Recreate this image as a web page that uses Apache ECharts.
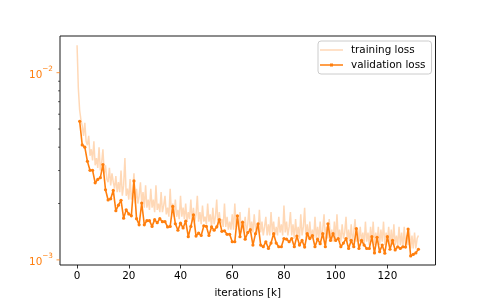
<!DOCTYPE html>
<html><head><meta charset="utf-8">
<script src="https://cdn.jsdelivr.net/npm/echarts@6/dist/echarts.min.js"></script>
<style>html,body{margin:0;padding:0;background:#fff}#c{width:484px;height:303px}</style>
</head><body><div id="c"></div>
<script>
// iterations in thousands
const trainStart = 0, trainStep = 0.5;
const trainLoss = [
14.0e-3,8.2e-3,6.3e-3,5.6e-3,5.2e-3,4.6e-3,5.4e-3,4.3e-3,4.1e-3,4.6e-3,
3.6e-3,3.9e-3,3.4e-3,4.3e-3,3.2e-3,3.5e-3,3.1e-3,4.0e-3,3.0e-3,3.3e-3,
3.9e-3,2.9e-3,3.2e-3,2.7e-3,2.6e-3,3.1e-3,2.5e-3,2.9e-3,2.6e-3,2.4e-3,
2.8e-3,2.3e-3,2.6e-3,2.3e-3,3.0e-3,2.2e-3,2.5e-3,3.5e-3,2.2e-3,2.4e-3,
2.1e-3,2.7e-3,2.1e-3,2.3e-3,2.9e-3,2.0e-3,2.4e-3,2.0e-3,2.2e-3,2.6e-3,
2.0e-3,2.3e-3,1.9e-3,2.5e-3,1.9e-3,2.1e-3,1.85e-3,2.4e-3,1.9e-3,2.1e-3,
1.8e-3,2.5e-3,1.85e-3,2.0e-3,1.8e-3,2.3e-3,1.8e-3,1.95e-3,2.2e-3,1.75e-3,
1.9e-3,1.7e-3,2.4e-3,1.75e-3,2.0e-3,1.7e-3,2.1e-3,1.7e-3,1.85e-3,1.65e-3,
2.2e-3,1.7e-3,1.9e-3,1.65e-3,2.0e-3,1.6e-3,1.8e-3,1.65e-3,2.1e-3,1.6e-3,
1.9e-3,1.6e-3,1.75e-3,2.2e-3,1.6e-3,1.8e-3,1.55e-3,1.95e-3,1.6e-3,1.7e-3,
1.55e-3,2.0e-3,1.6e-3,1.75e-3,1.5e-3,1.9e-3,1.55e-3,1.7e-3,2.1e-3,1.5e-3,
1.8e-3,1.55e-3,1.65e-3,1.5e-3,2.0e-3,1.5e-3,1.7e-3,1.45e-3,1.6e-3,1.45e-3,
1.75e-3,1.45e-3,2.0e-3,1.5e-3,1.65e-3,1.45e-3,1.8e-3,1.4e-3,1.6e-3,1.45e-3,
1.7e-3,1.4e-3,1.55e-3,1.9e-3,1.4e-3,1.6e-3,1.4e-3,1.75e-3,1.45e-3,1.55e-3,
1.4e-3,1.85e-3,1.4e-3,1.6e-3,1.35e-3,1.5e-3,1.7e-3,1.35e-3,1.55e-3,1.35e-3,
1.8e-3,1.4e-3,1.6e-3,1.35e-3,1.5e-3,1.35e-3,1.7e-3,1.4e-3,1.55e-3,1.35e-3,
1.95e-3,1.4e-3,1.6e-3,1.35e-3,1.5e-3,1.8e-3,1.35e-3,1.55e-3,1.3e-3,1.65e-3,
1.35e-3,1.5e-3,1.3e-3,1.75e-3,1.35e-3,1.5e-3,1.9e-3,1.3e-3,1.55e-3,1.3e-3,
1.6e-3,1.3e-3,1.45e-3,1.3e-3,1.7e-3,1.3e-3,1.5e-3,1.3e-3,1.6e-3,1.3e-3,
1.45e-3,1.75e-3,1.3e-3,1.5e-3,1.3e-3,1.65e-3,1.3e-3,1.45e-3,1.25e-3,1.6e-3,
1.3e-3,1.75e-3,1.3e-3,1.45e-3,1.25e-3,1.55e-3,1.3e-3,1.4e-3,1.7e-3,1.25e-3,
1.45e-3,1.25e-3,1.55e-3,1.25e-3,1.4e-3,1.65e-3,1.25e-3,1.45e-3,1.25e-3,1.5e-3,
1.25e-3,1.4e-3,1.2e-3,1.6e-3,1.25e-3,1.4e-3,1.2e-3,1.5e-3,1.25e-3,1.6e-3,
1.2e-3,1.4e-3,1.25e-3,1.5e-3,1.2e-3,1.45e-3,1.25e-3,1.6e-3,1.2e-3,1.4e-3,
1.25e-3,1.5e-3,1.2e-3,1.45e-3,1.2e-3,1.55e-3,1.2e-3,1.35e-3,1.2e-3,1.5e-3,
1.2e-3,1.4e-3,1.15e-3,1.5e-3,1.2e-3,1.35e-3,1.2e-3,1.45e-3,1.15e-3,1.35e-3,
1.15e-3,1.4e-3,1.15e-3,1.3e-3,1.35e-3
];
const valStart = 1, valStep = 1;
const valLoss = [
5.50e-3,4.11e-3,4.00e-3,3.36e-3,3.01e-3,3.01e-3,2.58e-3,2.69e-3,2.75e-3,3.23e-3,
2.37e-3,2.09e-3,2.12e-3,2.35e-3,1.83e-3,1.96e-3,2.08e-3,1.67e-3,1.85e-3,1.76e-3,
1.72e-3,2.64e-3,1.66e-3,1.54e-3,2.01e-3,1.54e-3,1.62e-3,1.62e-3,1.51e-3,1.64e-3,
1.58e-3,1.66e-3,1.60e-3,1.60e-3,1.50e-3,1.51e-3,1.93e-3,1.56e-3,1.44e-3,1.57e-3,
1.48e-3,1.61e-3,1.33e-3,1.51e-3,1.74e-3,1.34e-3,1.39e-3,1.35e-3,1.52e-3,1.51e-3,
1.35e-3,1.50e-3,1.44e-3,1.50e-3,1.64e-3,1.42e-3,1.43e-3,1.37e-3,1.37e-3,1.25e-3,
1.25e-3,1.72e-3,1.33e-3,1.59e-3,1.29e-3,1.40e-3,1.45e-3,1.20e-3,1.38e-3,1.56e-3,
1.20e-3,1.175e-3,1.25e-3,1.15e-3,1.23e-3,1.38e-3,1.23e-3,1.175e-3,1.175e-3,1.30e-3,
1.29e-3,1.25e-3,1.30e-3,1.175e-3,1.34e-3,1.20e-3,1.27e-3,1.17e-3,1.38e-3,1.30e-3,
1.35e-3,1.175e-3,1.29e-3,1.22e-3,1.38e-3,1.175e-3,1.56e-3,1.27e-3,1.38e-3,1.27e-3,
1.30e-3,1.175e-3,1.23e-3,1.30e-3,1.15e-3,1.27e-3,1.175e-3,1.47e-3,1.15e-3,1.27e-3,
1.20e-3,1.15e-3,1.15e-3,1.33e-3,1.09e-3,1.32e-3,1.105e-3,1.20e-3,1.085e-3,1.33e-3,
1.14e-3,1.27e-3,1.13e-3,1.175e-3,1.15e-3,1.175e-3,1.17e-3,1.46e-3,1.05e-3,1.07e-3,
1.09e-3,1.14e-3
];
const xTicks = [0, 20, 40, 60, 80, 100, 120];
const yMajorTicks = [1e-3, 1e-2];
const yMinorTicks = [2e-3, 3e-3, 4e-3, 5e-3, 6e-3, 7e-3, 8e-3, 9e-3];
const xMin = -6.6, xMax = 138.6, yMin = 9.39e-4, yMax = 1.57e-2;

const ORANGE = '#ff7f0e';
const LIGHT = '#ffd8b6';
const FONT = 'DejaVu Sans';
const trainData = trainLoss.map((v, i) => [trainStart + i * trainStep, v]);
const valData = valLoss.map((v, i) => [valStart + i * valStep, v]);
const tickData = yMajorTicks.map(v => [xMin, v, 1]).concat(yMinorTicks.map(v => [xMin, v, 0]));

// legend glyphs (23x10 box): plain line, and line with a small marker
const ICON_TRAIN = 'path://M0,0H0.01V0.01H0ZM0,4.3H23V5.7H0ZM22.99,9.99H23V10H22.99Z';
const ICON_VAL = 'path://M0,0H0.01V0.01H0ZM0,4.3H23V5.7H0ZM10,3.5H13V6.5H10ZM22.99,9.99H23V10H22.99Z';

const chart = echarts.init(document.getElementById('c'), null, {renderer: 'canvas'});
chart.setOption({
  animation: false,
  backgroundColor: '#fff',
  textStyle: {fontFamily: FONT},
  grid: {left: 60, top: 36, width: 375.5, height: 232.5, show: true, borderColor: '#1a1a1a', borderWidth: 1, backgroundColor: 'transparent', containLabel: false},
  legend: {
    data: [
      {name: 'training loss', icon: ICON_TRAIN, itemStyle: {color: LIGHT, opacity: 1, borderWidth: 0}},
      {name: 'validation loss', icon: ICON_VAL, itemStyle: {color: ORANGE, opacity: 1, borderWidth: 0}}
    ],
    orient: 'vertical', left: 318, top: 41,
    itemWidth: 23, itemHeight: 10, itemGap: 5,
    padding: [4, 6, 4, 2],
    backgroundColor: 'rgba(255,255,255,0.8)', borderColor: '#cccccc', borderWidth: 1, borderRadius: 3,
    textStyle: {fontFamily: FONT, fontSize: 10.4, color: '#000', padding: [0, 0, 0, 3]}
  },
  xAxis: {
    type: 'value', min: xMin, max: xMax,
    name: 'iterations [k]', nameLocation: 'middle', nameGap: 23,
    nameTextStyle: {fontFamily: FONT, fontSize: 10.4, color: '#000'},
    axisLine: {show: false},
    axisTick: {show: true, customValues: xTicks, length: 3.5, lineStyle: {color: '#000', width: 0.8}},
    axisLabel: {customValues: xTicks, margin: 6, fontFamily: FONT, fontSize: 10.4, color: '#000'},
    splitLine: {show: false}
  },
  yAxis: {
    type: 'log', logBase: 10, min: yMin, max: yMax,
    axisLine: {show: false},
    axisTick: {show: false},
    splitLine: {show: false},
    minorTick: {show: false},
    axisLabel: {
      margin: 7, showMinLabel: false, showMaxLabel: false,
      formatter: function (v) {
        const l = Math.log10(v), e = Math.round(l);
        if (Math.abs(l - e) > 1e-6) return '';
        return '{b|10}{s|' + (e < 0 ? '\u2212' + (-e) : e) + '}';
      },
      rich: {
        b: {fontFamily: FONT, fontSize: 10.4, color: ORANGE, lineHeight: 15, verticalAlign: 'bottom'},
        s: {fontFamily: FONT, fontSize: 7.3, color: ORANGE, lineHeight: 9, verticalAlign: 'top'}
      }
    }
  },
  series: [
    {
      name: 'training loss', type: 'line', data: trainData, showSymbol: false, symbol: 'none',
      lineStyle: {color: ORANGE, opacity: 0.3, width: 1.5}, itemStyle: {color: ORANGE, opacity: 0.3},
      z: 2
    },
    {
      name: 'validation loss', type: 'line', data: valData, symbol: 'circle', symbolSize: 3.2,
      lineStyle: {color: ORANGE, width: 1.6}, itemStyle: {color: ORANGE},
      z: 3
    },
    {
      name: 'yticks', type: 'custom', data: tickData, clip: false, silent: true, z: 4,
      renderItem: function (params, api) {
        const p = api.coord([api.value(0), api.value(1)]);
        const major = api.value(2) === 1;
        const len = major ? 3.5 : 2;
        return {type: 'line', shape: {x1: p[0] - len, y1: p[1], x2: p[0], y2: p[1]},
          style: {stroke: major ? ORANGE : '#000', lineWidth: major ? 0.8 : 0.6}};
      }
    }
  ]
});
</script>
</body></html>
